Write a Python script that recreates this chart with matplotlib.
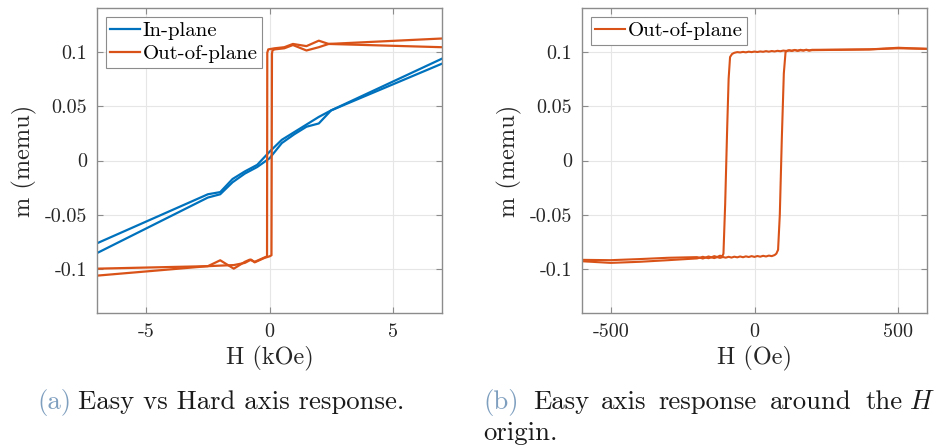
import matplotlib
matplotlib.use("Agg")
import matplotlib.pyplot as plt

plt.rcParams['font.family'] = ['cmr10', 'DejaVu Serif']
plt.rcParams['mathtext.fontset'] = 'cm'
plt.rcParams['axes.unicode_minus'] = False
plt.rcParams['axes.formatter.use_mathtext'] = True

BLUE = '#0072BD'
ORANGE = '#D95319'

# ---------- panel (a): H in kOe ----------
inplane_down_H = [7.0, 2.5, 2.0, 1.5, 1.0, 0.5, 0.0, -0.5, -1.0, -1.5, -2.0, -2.5, -7.0]
inplane_down_m = [0.0889, 0.046, 0.040, 0.033, 0.026, 0.019, 0.008, -0.004, -0.010, -0.017, -0.029, -0.031, -0.076]
inplane_up_H = [-7.0, -2.5, -2.0, -1.5, -1.0, -0.5, 0.0, 0.5, 1.0, 1.5, 2.0, 2.5, 7.0]
inplane_up_m = [-0.085, -0.034, -0.031, -0.020, -0.012, -0.006, 0.002, 0.016, 0.024, 0.031, 0.034, 0.046, 0.0935]

oop_down_H = [7.0, 2.4, 2.0, 1.5, 0.95, 0.6, 0.2, -0.05, -0.09, -0.1, -0.2, -0.6, -0.8, -1.0, -1.45, -2.0, -2.5, -7.0]
oop_down_m = [0.112, 0.107, 0.110, 0.105, 0.107, 0.104, 0.103, 0.102, 0.099, -0.088, -0.089, -0.093, -0.091, -0.093, -0.0993, -0.0916, -0.097, -0.0993]
oop_up_H = [-7.0, -2.5, -2.0, -1.45, -1.0, -0.75, -0.6, -0.2, 0.0, 0.08, 0.1, 0.12, 0.2, 0.6, 0.95, 1.5, 2.0, 2.4, 7.0]
oop_up_m = [-0.1057, -0.097, -0.0965, -0.096, -0.094, -0.091, -0.0935, -0.0894, -0.088, -0.087, 0.098, 0.101, 0.102, 0.103, 0.106, 0.101, 0.104, 0.107, 0.104]

# ---------- panel (b): H in Oe ----------
b_down_H = [600, 500, 400, 300, 200, 190, 180, 170, 160, 150, 140, 130, 120, 110, 100, 90, 80, 70, 60,
            50, 40, 30, 20, 10, 0, -10, -20, -30, -40, -50, -60, -70, -78, -85, -90, -95, -102, -108,
            -112, -120, -130, -140, -150, -160, -170, -180, -190, -200, -300, -400, -500, -600]
b_down_m = [0.1025, 0.1035, 0.1020, 0.1016, 0.1013, 0.1009, 0.1015, 0.1010, 0.1012, 0.1007, 0.1013, 0.1008,
            0.1011, 0.1006, 0.1009, 0.1003, 0.1007, 0.1001, 0.1005, 0.0999, 0.1004, 0.0998, 0.1001, 0.0996,
            0.1000, 0.0995, 0.0999, 0.0993, 0.0997, 0.0992, 0.0995, 0.0989, 0.0978, 0.0950, 0.0750,
            0.0300, -0.0400, -0.0855, -0.0880, -0.0874, -0.0886, -0.0878, -0.0889, -0.0881, -0.0891,
            -0.0884, -0.0893, -0.0887, -0.0893, -0.0905, -0.0915, -0.0912]
b_up_H = [-600, -500, -400, -300, -200, -190, -180, -170, -160, -150, -140, -130, -120, -110, -100, -90, -80,
          -70, -60, -50, -40, -30, -20, -10, 0, 10, 20, 30, 40, 50, 60, 70, 76, 82, 88, 95, 102, 108,
          112, 120, 130, 140, 150, 160, 170, 180, 190, 200, 300, 400, 500, 600]
b_up_m = [-0.0925, -0.0940, -0.0930, -0.0915, -0.0899, -0.0892, -0.0900, -0.0891, -0.0897, -0.0889, -0.0896,
          -0.0887, -0.0894, -0.0886, -0.0892, -0.0884, -0.0891, -0.0883, -0.0889, -0.0881, -0.0888, -0.0880,
          -0.0886, -0.0878, -0.0885, -0.0877, -0.0883, -0.0875, -0.0881, -0.0873, -0.0878, -0.0868,
          -0.0855, -0.0820, -0.0500, 0.0200, 0.0800, 0.0995, 0.1004, 0.1012, 0.1006, 0.1015, 0.1008,
          0.1016, 0.1010, 0.1017, 0.1011, 0.1016, 0.1018, 0.1020, 0.1030, 0.1025]

yticks = [-0.1, -0.05, 0, 0.05, 0.1]
ytick_labels = ['-0.1', '-0.05', '0', '0.05', '0.1']
a_xticks = [-5, 0, 5]
a_xtick_labels = ['-5', '0', '5']
b_xticks = [-500, 0, 500]
b_xtick_labels = ['-500', '0', '500']

fig = plt.figure(figsize=(9.41, 4.48), dpi=100)
ax1 = fig.add_axes([97/941, 1-313/448, 345/941, 305/448])
ax2 = fig.add_axes([582/941, 1-313/448, 345/941, 305/448])

lw = 1.6
ax1.plot(inplane_down_H, inplane_down_m, color=BLUE, lw=lw, label='In-plane')
ax1.plot(inplane_up_H, inplane_up_m, color=BLUE, lw=lw)
ax1.plot(oop_down_H, oop_down_m, color=ORANGE, lw=lw, label='Out-of-plane')
ax1.plot(oop_up_H, oop_up_m, color=ORANGE, lw=lw)
ax2.plot(b_down_H, b_down_m, color=ORANGE, lw=1.5, label='Out-of-plane')
ax2.plot(b_up_H, b_up_m, color=ORANGE, lw=1.5)

ax1.set_xlim(-7, 7)
ax2.set_xlim(-600, 600)
for ax, xt, xl, xlab in [(ax1, a_xticks, a_xtick_labels, 'H (kOe)'),
                         (ax2, b_xticks, b_xtick_labels, 'H (Oe)')]:
    ax.set_ylim(-0.14, 0.14)
    ax.set_xticks(xt)
    ax.set_xticklabels(xl)
    ax.set_yticks(yticks)
    ax.set_yticklabels(ytick_labels)
    ax.grid(True, color='#e6e6e6', lw=0.8)
    ax.set_axisbelow(True)
    for s in ax.spines.values():
        s.set_color('#8c8c8c')
        s.set_linewidth(1.0)
    ax.tick_params(direction='in', length=4, width=0.8, color='#8c8c8c',
                   top=True, right=True, labelsize=14.5, labelcolor='#262626', pad=7)
    ax.set_xlabel(xlab, fontsize=17.5, color='#262626', labelpad=4)
    ax.set_ylabel('m (memu)', fontsize=17.5, color='#262626', labelpad=6)
    leg = ax.legend(loc='upper left', bbox_to_anchor=(0.025, 0.97), fontsize=15,
                    handlelength=1.45, handletextpad=0.1, labelspacing=0.2,
                    borderaxespad=0.0, borderpad=0.22, fancybox=False,
                    framealpha=1, edgecolor='#8c8c8c')
    leg.get_frame().set_linewidth(0.8)

CAP = '#7f9fbf'
TXT = '#1a1a1a'
fs = 19.25
y1 = 1 - 402/448
fig.text(37/941, y1, '(a)', color=CAP, fontsize=fs, va='center', ha='left')
fig.text(78/941, y1, 'Easy vs Hard axis response.', color=TXT, fontsize=fs, va='center', ha='left')
fig.text(483/941, y1, '(b)', color=CAP, fontsize=fs, va='center', ha='left')
caption_b_words = ['Easy', 'axis', 'response', 'around', 'the']
caption_b_x = [533, 601, 658, 770, 865]
for w, x in zip(caption_b_words, caption_b_x):
    fig.text(x/941, y1, w, color=TXT, fontsize=fs, va='center', ha='left')
fig.text(935/941, y1, r'$H$', color=TXT, fontsize=fs, va='center', ha='right')
fig.text(483/941, 1-433/448, 'origin.', color=TXT, fontsize=fs, va='center', ha='left')

fig.savefig('out.png', dpi=100, facecolor='white')
